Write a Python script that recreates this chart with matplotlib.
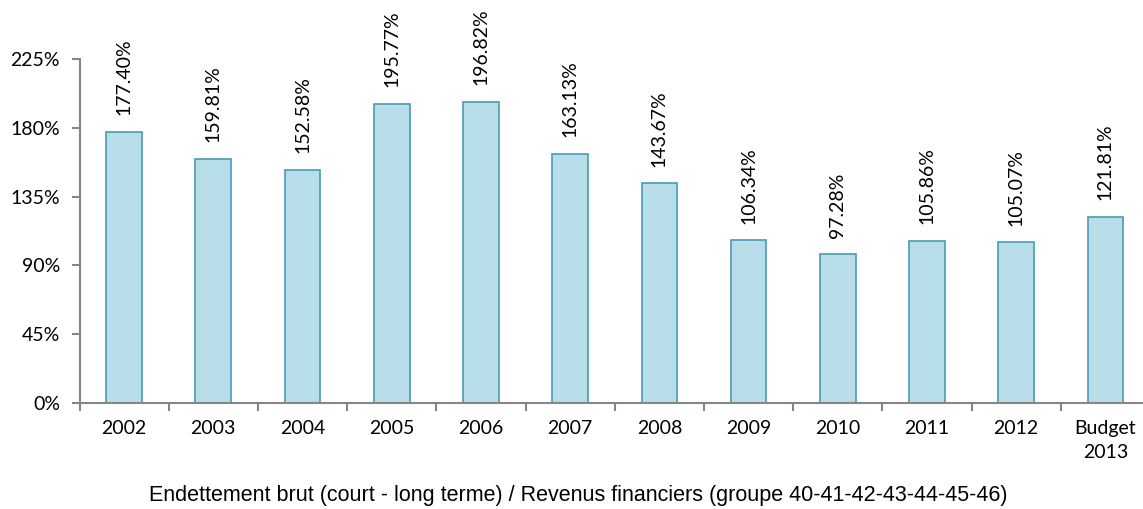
import matplotlib.pyplot as plt
import numpy as np
from matplotlib.ticker import FuncFormatter

categories = ["2002", "2003", "2004", "2005", "2006", "2007", "2008",
              "2009", "2010", "2011", "2012", "Budget\n2013"]
values = [177.40, 159.81, 152.58, 195.77, 196.82, 163.13, 143.67,
          106.34, 97.28, 105.86, 105.07, 121.81]
y_ticks = [0, 45, 90, 135, 180, 225]

W, H = 1143, 509
fig = plt.figure(figsize=(W / 100, H / 100), dpi=100)
ax = fig.add_axes([79.5 / W, 1 - 403 / H, (1150 - 79.5) / W, 344 / H])

x = np.arange(len(categories))
ax.bar(x, values, width=0.40, color="#B7DEE8", edgecolor="#4A9BB5", linewidth=1.2)

for xi, v in zip(x, values):
    ax.annotate(f"{v:.2f}%", (xi, v), xytext=(0, 12), textcoords="offset points",
                rotation=90, ha="center", va="bottom", fontsize=14,
                family="Lato", color="black")

ax.set_xlim(-0.5, len(categories) - 0.5)
ax.set_ylim(0, 225)
ax.set_yticks(y_ticks)
ax.yaxis.set_major_formatter(FuncFormatter(lambda v, p: f"{v:.0f}%"))

ax.set_xticks(x)
ax.set_xticklabels(categories, family="Lato", fontsize=14, linespacing=1.5)
ax.set_xticks(np.arange(len(categories) + 1) - 0.5, minor=True)
ax.tick_params(axis="x", which="major", length=0, pad=12)
ax.tick_params(axis="x", which="minor", length=6, width=1.5, color="#868686", direction="out")
ax.tick_params(axis="y", length=6, width=1.5, color="#868686", labelsize=14, pad=8)
for lab in ax.get_yticklabels():
    lab.set_family("Lato")

for s in ["top", "right"]:
    ax.spines[s].set_visible(False)
for s in ["left", "bottom"]:
    ax.spines[s].set_color("#868686")
    ax.spines[s].set_linewidth(1.5)

fig.text(578 / W, 1 - 496 / H, "Endettement brut (court - long terme) / Revenus financiers (groupe 40-41-42-43-44-45-46)",
         ha="center", va="center", fontsize=15.5, family="Liberation Sans")

fig.savefig("out.png", dpi=100)
